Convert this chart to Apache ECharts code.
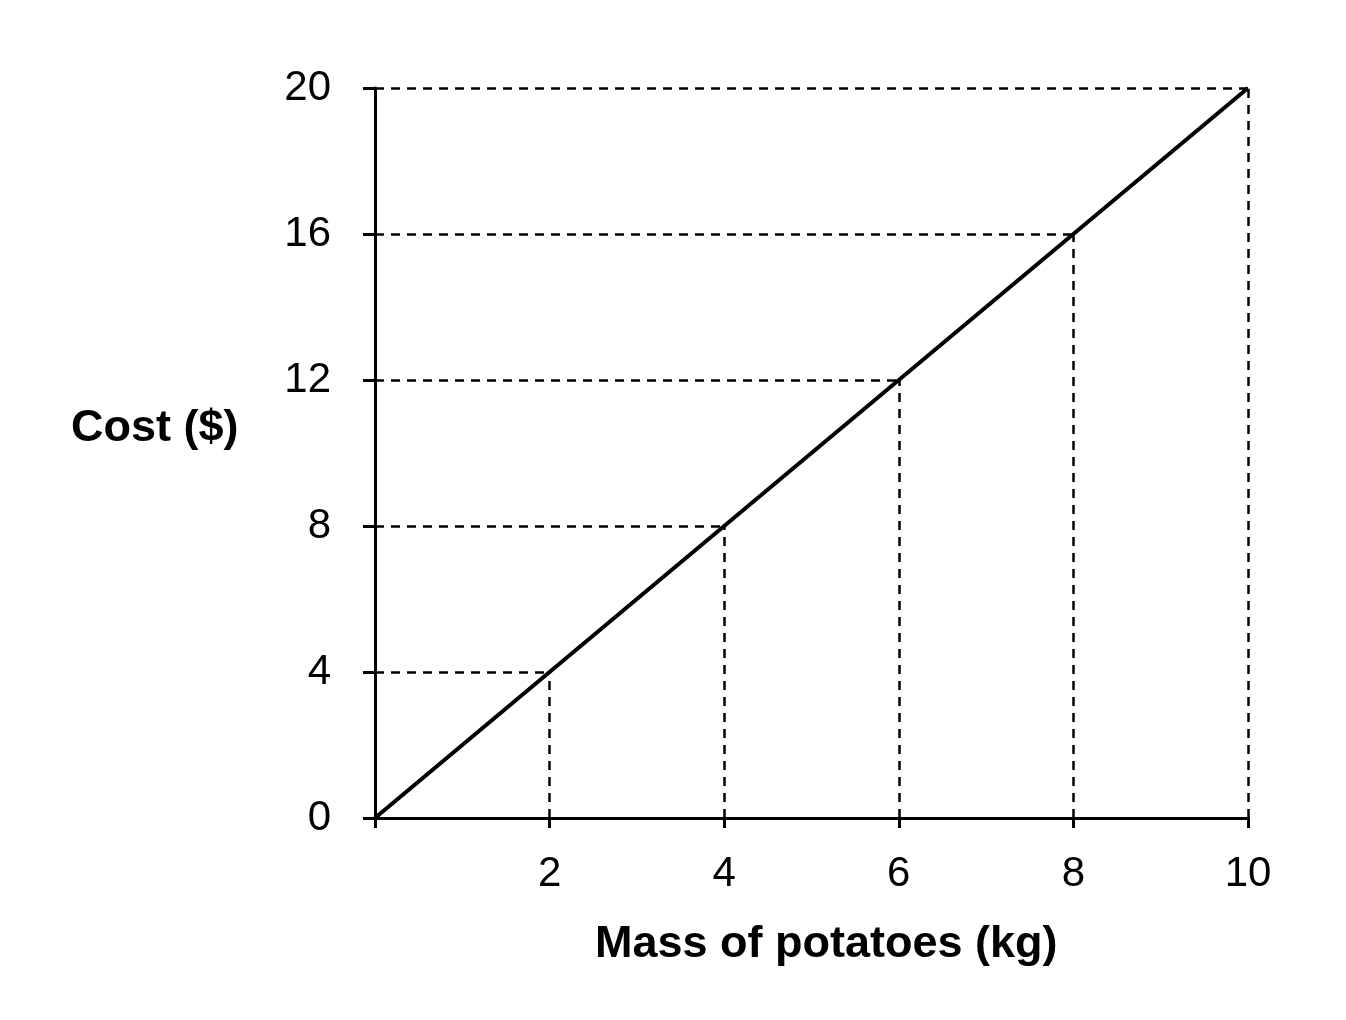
<!DOCTYPE html>
<html>
<head>
<meta charset="utf-8">
<script src="https://cdn.jsdelivr.net/npm/echarts@6/dist/echarts.min.js"></script>
<style>html,body{margin:0;padding:0;background:#fff;}#c{width:1346px;height:1020px;}</style>
</head>
<body>
<div id="c"></div>
<script>
const massKg = [0, 2, 4, 6, 8, 10];
const costUsd = [0, 4, 8, 12, 16, 20];
const xTickValues = [2, 4, 6, 8, 10];
const yTickValues = [0, 4, 8, 12, 16, 20];
const xTitle = 'Mass of potatoes (kg)';
const yTitle = 'Cost ($)';

const FONT = '"Liberation Sans", Arial, sans-serif';
const chart = echarts.init(document.getElementById('c'));

const guides = [];
for (let i = 1; i < massKg.length; i++) {
  guides.push([{coord: [0, costUsd[i]]}, {coord: [massKg[i], costUsd[i]]}]);
  guides.push([{coord: [massKg[i], 0]}, {coord: [massKg[i], costUsd[i]]}]);
}

const titleStyle = {fill: '#000', fontSize: 45, fontWeight: 'bold', fontFamily: FONT, verticalAlign: 'middle'};

chart.setOption({
  animation: false,
  backgroundColor: '#fff',
  grid: {left: 375, right: 98, top: 88, bottom: 202},
  xAxis: {
    type: 'value', min: 0, max: 10, interval: 2,
    axisLine: {show: true, onZero: false, lineStyle: {color: '#000', width: 3}},
    axisTick: {show: true, length: 10, lineStyle: {color: '#000', width: 3}},
    axisLabel: {color: '#000', fontSize: 42, fontFamily: FONT, margin: 35,
      formatter: v => xTickValues.includes(v) ? String(v) : ''},
    splitLine: {show: false}
  },
  yAxis: {
    type: 'value', min: 0, max: 20, interval: 4,
    axisLine: {show: true, onZero: false, lineStyle: {color: '#000', width: 3}},
    axisTick: {show: true, length: 12, lineStyle: {color: '#000', width: 3}},
    axisLabel: {color: '#000', fontSize: 42, fontFamily: FONT, margin: 44,
      formatter: v => yTickValues.includes(v) ? String(v) : ''},
    splitLine: {show: false}
  },
  graphic: [
    {type: 'text', left: 829 - 234, top: 922, style: Object.assign({text: xTitle}, titleStyle, {verticalAlign: 'top'})},
    {type: 'text', left: 71, top: 406, style: Object.assign({text: yTitle}, titleStyle, {verticalAlign: 'top'})}
  ],
  series: [{
    type: 'line',
    data: massKg.map((m, i) => [m, costUsd[i]]),
    symbol: 'none',
    lineStyle: {color: '#000', width: 4},
    z: 5,
    markLine: {
      silent: true,
      symbol: ['none', 'none'],
      label: {show: false},
      lineStyle: {color: '#000', width: 2.5, type: [9, 7]},
      data: guides
    }
  }]
});
</script>
</body>
</html>
